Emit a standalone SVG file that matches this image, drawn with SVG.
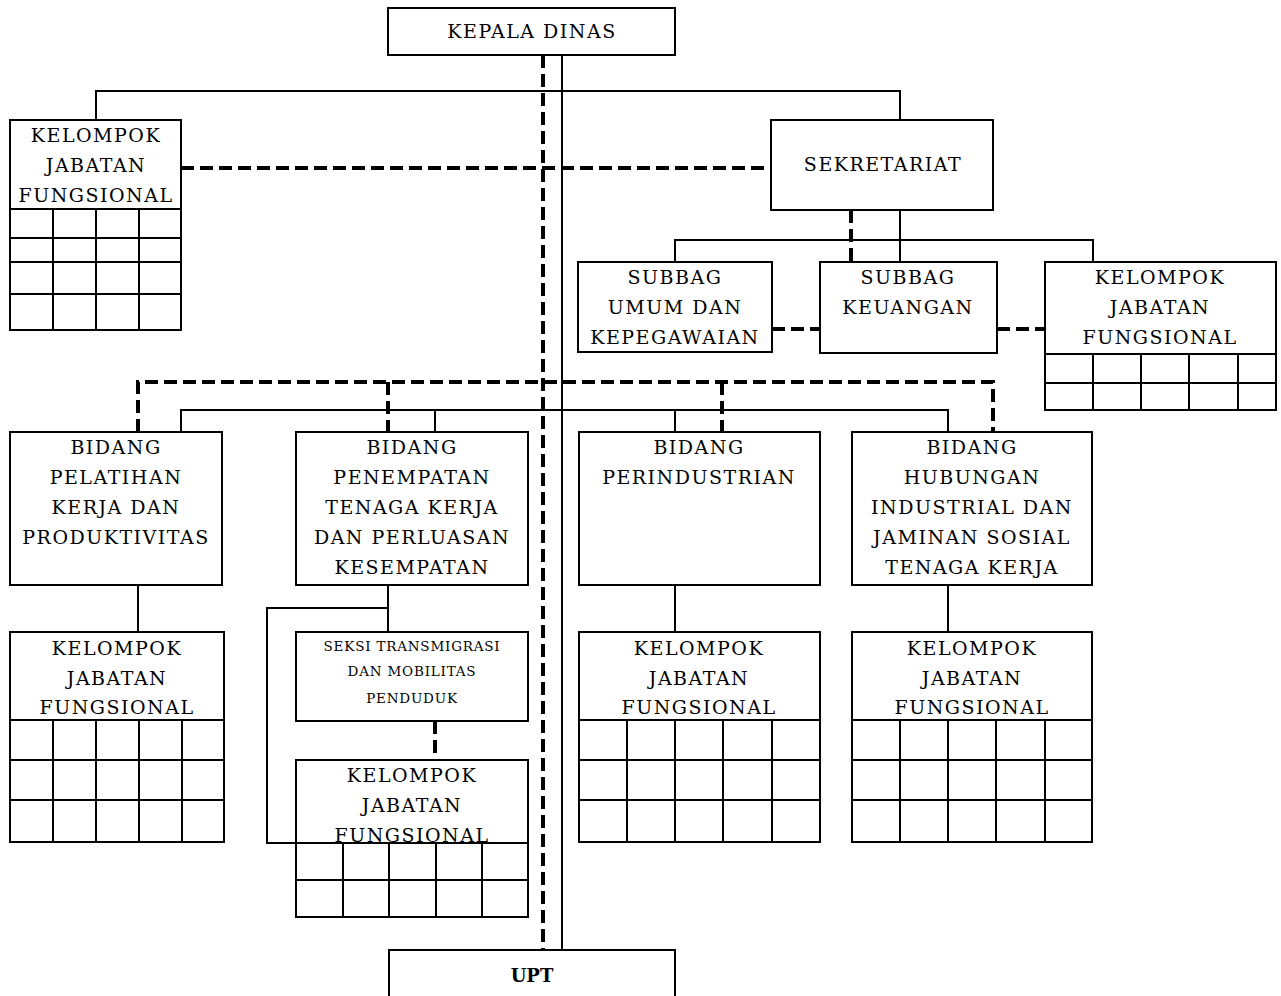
<svg xmlns="http://www.w3.org/2000/svg" width="1281" height="996" viewBox="0 0 1281 996">
<style>
.box{fill:#fff;stroke:#000;stroke-width:2}
.grid{fill:none;stroke:#000;stroke-width:2}
.ln{fill:none;stroke:#000;stroke-width:2}
.dl{fill:none;stroke:#000;stroke-width:4;stroke-dasharray:13 6}
.t{font-family:"DejaVu Serif","Liberation Serif",serif;font-size:19px;letter-spacing:1.5px;text-anchor:middle;fill:#000}
.s{font-family:"DejaVu Serif","Liberation Serif",serif;font-size:13.5px;letter-spacing:0.8px;text-anchor:middle;fill:#000}
.b{font-family:"DejaVu Serif","Liberation Serif",serif;font-size:18px;font-weight:bold;text-anchor:middle;fill:#000}
</style>
<rect width="1281" height="996" fill="#fff"/>
<g id="connectors">
<path class="ln" d="M562 55V950"/>
<path class="dl" d="M543 55V950"/>
<path class="ln" d="M96 120V91H900V120"/>
<path class="dl" d="M181 168H771"/>
<path class="dl" d="M851 210V262"/>
<path class="ln" d="M900 210V240M675 262V240H1093V262M900 240V262"/>
<path class="dl" d="M772 329H820M997 329H1045"/>
<path class="dl" d="M138 432V382H993V432M388 382V432M722 382V432"/>
<path class="ln" d="M181 432V410H948V432M435 410V432M675 410V432"/>
<path class="ln" d="M138 585V632M675 585V632M948 585V632"/>
<path class="ln" d="M388 585V632M388 608H267V843H296"/>
<path class="dl" d="M435 721V760"/>
</g>
<g id="kepala-dinas">
<rect class="box" x="388" y="8" width="287" height="47"/>
<text class="t" x="532" y="38">KEPALA DINAS</text>
</g>
<g id="kjf-top-left">
<rect class="box" x="10" y="120" width="171" height="210"/>
<path class="grid" d="M10 209H181M10 238H181M10 262H181M10 294H181M53 209V330M96 209V330M139 209V330"/>
<text class="t" x="96" y="142">KELOMPOK</text>
<text class="t" x="96" y="172">JABATAN</text>
<text class="t" x="96" y="202">FUNGSIONAL</text>
</g>
<g id="sekretariat">
<rect class="box" x="771" y="120" width="222" height="90"/>
<text class="t" x="883" y="171">SEKRETARIAT</text>
</g>
<g id="subbag-umum">
<rect class="box" x="578" y="262" width="194" height="90"/>
<text class="t" x="675" y="284">SUBBAG</text>
<text class="t" x="675" y="314">UMUM DAN</text>
<text class="t" x="675" y="344">KEPEGAWAIAN</text>
</g>
<g id="subbag-keuangan">
<rect class="box" x="820" y="262" width="177" height="91"/>
<text class="t" x="908" y="284">SUBBAG</text>
<text class="t" x="908" y="314">KEUANGAN</text>
</g>
<g id="kjf-sekretariat">
<rect class="box" x="1045" y="262" width="231" height="148"/>
<path class="grid" d="M1045 354H1276M1045 383H1276M1093 354V410M1141 354V410M1189 354V410M1238 354V410"/>
<text class="t" x="1160" y="284">KELOMPOK</text>
<text class="t" x="1160" y="314">JABATAN</text>
<text class="t" x="1160" y="344">FUNGSIONAL</text>
</g>
<g id="bidang-pelatihan">
<rect class="box" x="10" y="432" width="212" height="153"/>
<text class="t" x="116" y="454">BIDANG</text>
<text class="t" x="116" y="484">PELATIHAN</text>
<text class="t" x="116" y="514">KERJA DAN</text>
<text class="t" x="116" y="544">PRODUKTIVITAS</text>
</g>
<g id="bidang-penempatan">
<rect class="box" x="296" y="432" width="232" height="153"/>
<text class="t" x="412" y="454">BIDANG</text>
<text class="t" x="412" y="484">PENEMPATAN</text>
<text class="t" x="412" y="514">TENAGA KERJA</text>
<text class="t" x="412" y="544">DAN PERLUASAN</text>
<text class="t" x="412" y="574">KESEMPATAN</text>
</g>
<g id="bidang-perindustrian">
<rect class="box" x="579" y="432" width="241" height="153"/>
<text class="t" x="699" y="454">BIDANG</text>
<text class="t" x="699" y="484">PERINDUSTRIAN</text>
</g>
<g id="bidang-hubungan">
<rect class="box" x="852" y="432" width="240" height="153"/>
<text class="t" x="972" y="454">BIDANG</text>
<text class="t" x="972" y="484">HUBUNGAN</text>
<text class="t" x="972" y="514">INDUSTRIAL DAN</text>
<text class="t" x="972" y="544">JAMINAN SOSIAL</text>
<text class="t" x="972" y="574">TENAGA KERJA</text>
</g>
<g id="kjf-pelatihan">
<rect class="box" x="10" y="632" width="214" height="210"/>
<path class="grid" d="M10 720H224M10 760H224M10 800H224M53 720V842M96 720V842M139 720V842M182 720V842"/>
<text class="t" x="117" y="655">KELOMPOK</text>
<text class="t" x="117" y="685">JABATAN</text>
<text class="t" x="117" y="714">FUNGSIONAL</text>
</g>
<g id="seksi-transmigrasi">
<rect class="box" x="296" y="632" width="232" height="89"/>
<text class="s" x="412" y="651">SEKSI TRANSMIGRASI</text>
<text class="s" x="412" y="676">DAN MOBILITAS</text>
<text class="s" x="412" y="703">PENDUDUK</text>
</g>
<g id="kjf-penempatan">
<rect class="box" x="296" y="760" width="232" height="157"/>
<text class="t" x="412" y="782">KELOMPOK</text>
<text class="t" x="412" y="812">JABATAN</text>
<text class="t" x="412" y="842">FUNGSIONAL</text>
<rect x="297" y="844" width="230" height="72" fill="#fff"/>
<path class="grid" d="M296 843H528M296 880H528M343 843V917M389 843V917M436 843V917M482 843V917"/>
</g>
<g id="kjf-perindustrian">
<rect class="box" x="579" y="632" width="241" height="210"/>
<path class="grid" d="M579 720H820M579 760H820M579 800H820M627 720V842M675 720V842M723 720V842M772 720V842"/>
<text class="t" x="699" y="655">KELOMPOK</text>
<text class="t" x="699" y="685">JABATAN</text>
<text class="t" x="699" y="714">FUNGSIONAL</text>
</g>
<g id="kjf-hubungan">
<rect class="box" x="852" y="632" width="240" height="210"/>
<path class="grid" d="M852 720H1092M852 760H1092M852 800H1092M900 720V842M948 720V842M996 720V842M1045 720V842"/>
<text class="t" x="972" y="655">KELOMPOK</text>
<text class="t" x="972" y="685">JABATAN</text>
<text class="t" x="972" y="714">FUNGSIONAL</text>
</g>
<g id="upt">
<rect class="box" x="389" y="950" width="286" height="60"/>
<text class="b" x="532" y="982">UPT</text>
</g>
</svg>
